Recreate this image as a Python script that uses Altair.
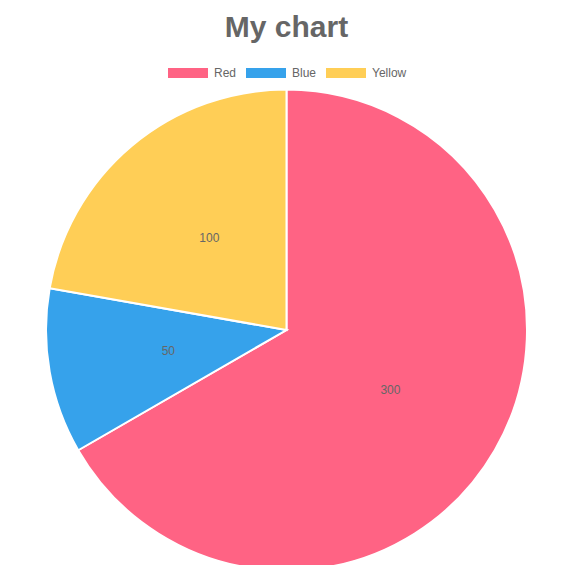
import altair as alt
import pandas as pd

labels = ["Red", "Blue", "Yellow"]
values = [300, 50, 100]
colors = ["#FF6384", "#36A2EB", "#FFCE56"]
order = [0, 1, 2]

df = pd.DataFrame({"label": labels, "value": values, "idx": order})

FONT = "Liberation Sans"

base = alt.Chart(df).encode(
    theta=alt.Theta("value:Q", stack=True),
    order=alt.Order("idx:Q"),
    x=alt.value(278.5),
    y=alt.value(262),
)

pie = base.mark_arc(radius=240.5, stroke="white", strokeWidth=2).encode(
    color=alt.Color(
        "label:N",
        scale=alt.Scale(domain=labels, range=colors),
        legend=alt.Legend(
            title=None,
            orient="none",
            legendX=170,
            legendY=-5,
            direction="horizontal",
            symbolType="M-2,-0.5H2V0.5H-2Z",
            symbolSize=400,
            symbolStrokeWidth=0,
            symbolOpacity=1,
            labelFont=FONT,
            labelFontSize=12,
            labelColor="#666",
            labelOffset=16,
            columnPadding=9,
            gridAlign="none",
        ),
    )
)

text = base.mark_text(radius=120, font=FONT, fontSize=12, color="#666").encode(
    text=alt.Text("value:Q")
)

chart = (
    alt.layer(pie, text)
    .properties(
        width=557,
        height=497,
        autosize="none",
        padding={"top": 60, "left": 0, "right": 0, "bottom": 0},
        title=alt.Title(
            "My chart",
            fontSize=30,
            fontWeight="bold",
            color="#666",
            font=FONT,
            anchor="middle",
            baseline="alphabetic",
            offset=-4,
        ),
    )
    .configure_view(stroke=None)
)

chart.save("out.html", embed_options={"renderer": "svg", "actions": False})
